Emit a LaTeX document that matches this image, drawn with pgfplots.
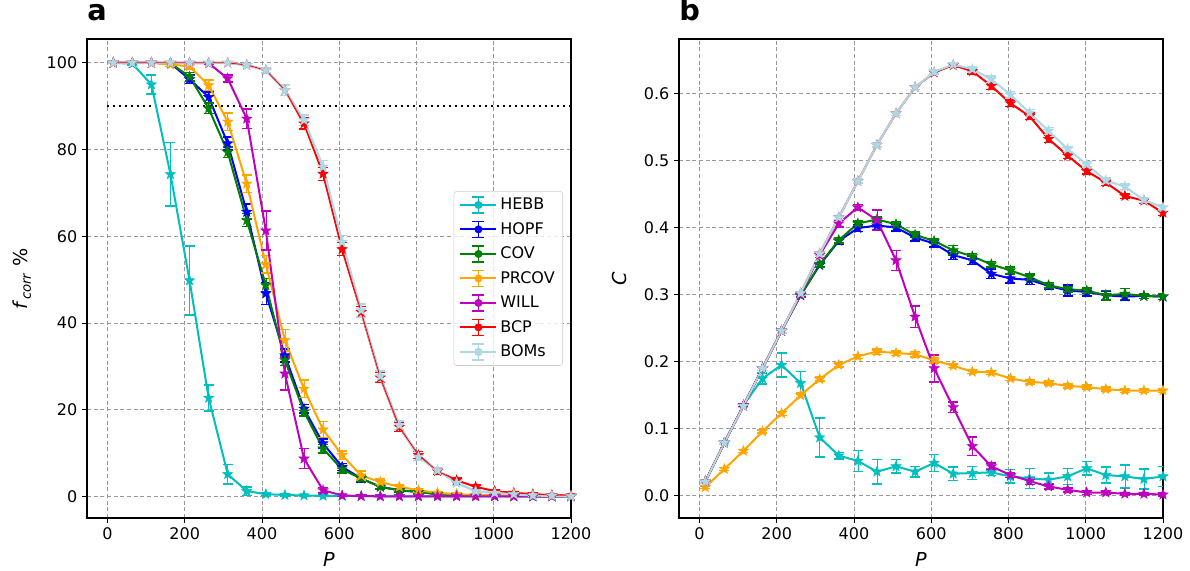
\documentclass[border=0pt]{standalone}
\usepackage{pgfplots}
\usepackage{pgfplotstable}
\pgfplotsset{compat=1.18}
\usepackage{fontspec}
\setmainfont{DejaVu Sans}

\definecolor{mcyan}{rgb}{0,0.75,0.75}
\definecolor{mblue}{rgb}{0,0,1}
\definecolor{mgreen}{rgb}{0,0.5,0}
\definecolor{morange}{HTML}{FFA500}
\definecolor{mmag}{rgb}{0.75,0,0.75}
\definecolor{mred}{rgb}{1,0,0}
\definecolor{mlblue}{HTML}{ADD8E6}

\pgfdeclareplotmark{fstar}{%
  \pgfpathmoveto{\pgfpointpolar{90}{\pgfplotmarksize}}%
  \pgfpathlineto{\pgfpointpolar{126}{0.42\pgfplotmarksize}}%
  \pgfpathlineto{\pgfpointpolar{162}{\pgfplotmarksize}}%
  \pgfpathlineto{\pgfpointpolar{198}{0.42\pgfplotmarksize}}%
  \pgfpathlineto{\pgfpointpolar{234}{\pgfplotmarksize}}%
  \pgfpathlineto{\pgfpointpolar{270}{0.42\pgfplotmarksize}}%
  \pgfpathlineto{\pgfpointpolar{306}{\pgfplotmarksize}}%
  \pgfpathlineto{\pgfpointpolar{342}{0.42\pgfplotmarksize}}%
  \pgfpathlineto{\pgfpointpolar{18}{\pgfplotmarksize}}%
  \pgfpathlineto{\pgfpointpolar{54}{0.42\pgfplotmarksize}}%
  \pgfpathclose
  \pgfusepathqfillstroke}

\pgfplotstableread{
P HEBB eHEBB HOPF eHOPF COV eCOV PRCOV ePRCOV WILL eWILL BCP eBCP BOM eBOM
15 100 0.1 100 0.1 100 0.1 100 0.1 100 0.1 100 0.1 100 0.1
64.4 99.8 0.3 100 0.1 100 0.1 100 0.1 100 0.1 100 0.1 100 0.1
113.8 95.0 2.2 100 0.1 100 0.1 100 0.1 100 0.1 100 0.1 100 0.1
163.1 74.3 7.3 99.9 0.3 99.9 0.3 99.6 0.4 100 0.1 100 0.1 100 0.1
212.5 49.8 8.0 96.2 1.0 96.8 1.0 99.2 0.6 100 0.2 100 0.1 100 0.1
261.9 22.7 3.0 92.1 1.2 89.5 1.2 94.8 1.2 99.9 0.3 100 0.1 100 0.1
311.3 5.1 2.3 81.4 1.5 79.4 1.2 86.4 2.0 96.4 0.8 100 0.2 100 0.2
360.6 1.2 1.0 65.6 1.8 63.7 1.5 72.1 2.0 87.1 2.3 99.5 0.4 99.5 0.4
410.0 0.5 0.3 46.8 2.5 48.7 1.5 53.5 2.0 61.3 4.5 98.3 0.6 98.3 0.6
459.4 0.3 0.2 32.5 1.5 31.4 1.2 36.0 2.5 28.3 3.8 93.7 1.2 93.7 1.2
508.8 0.2 0.1 20.2 1.0 19.5 1.0 24.8 2.0 8.7 2.3 86.0 1.3 86.8 1.2
558.1 0.1 0.1 12.2 1.0 11.0 1.0 15.4 1.8 1.4 0.6 74.4 1.5 76.0 1.5
607.5 0.1 0.1 6.8 0.8 6.2 0.8 9.5 1.0 0.2 0.2 57.0 1.5 58.7 1.5
656.9 0.05 0.05 4.1 0.8 4.1 0.6 4.8 1.0 0.05 0.05 42.5 1.3 42.9 1.5
706.3 0 0 2.2 0.5 2.2 0.5 3.3 0.7 0 0 27.4 1.2 27.7 1.2
755.6 0 0 1.4 0.4 1.4 0.4 2.2 0.5 0 0 16.0 1.0 16.4 1.0
805.0 0 0 1.0 0.3 1.0 0.3 1.4 0.4 0 0 9.5 0.8 9.1 0.8
854.4 0 0 0.5 0.2 0.5 0.2 0.8 0.3 0 0 5.8 0.6 6.0 0.6
903.8 0 0 0.3 0.1 0.3 0.1 0.5 0.2 0 0 3.7 0.5 3.1 0.5
953.1 0 0 0.2 0.1 0.2 0.1 0.3 0.1 0 0 2.2 0.4 1.2 0.3
1002.5 0 0 0.1 0.1 0.1 0.1 0.2 0.1 0 0 1.2 0.3 0.8 0.2
1051.9 0 0 0.1 0.1 0.05 0.05 0.1 0.1 0 0 0.8 0.2 0.5 0.2
1101.3 0 0 0 0 0 0 0.05 0.05 0 0 0.5 0.2 0.2 0.1
1150.6 0 0 0 0 0 0 0 0 0 0 0.3 0.1 0.15 0.1
1200 0 0 0 0 0 0 0 0 0 0 0.2 0.1 0 0
}\leftdata

\pgfplotstableread{
P HEBB eHEBB HOPF eHOPF COV eCOV PRCOV ePRCOV WILL eWILL BCP eBCP BOM eBOM
15 0.021 0.002 0.021 0.002 0.021 0.002 0.013 0.002 0.021 0.002 0.021 0.002 0.021 0.002
64.4 0.079 0.002 0.079 0.002 0.079 0.002 0.040 0.002 0.079 0.002 0.079 0.002 0.079 0.002
113.8 0.135 0.003 0.134 0.002 0.134 0.002 0.067 0.002 0.135 0.002 0.134 0.002 0.134 0.002
163.1 0.175 0.008 0.190 0.003 0.190 0.003 0.096 0.002 0.190 0.003 0.190 0.003 0.190 0.003
212.5 0.195 0.018 0.246 0.003 0.246 0.003 0.123 0.003 0.246 0.003 0.246 0.003 0.246 0.003
261.9 0.168 0.017 0.299 0.003 0.299 0.003 0.150 0.003 0.300 0.003 0.302 0.003 0.302 0.003
311.3 0.087 0.029 0.344 0.004 0.345 0.004 0.174 0.003 0.359 0.004 0.361 0.003 0.361 0.003
360.6 0.060 0.005 0.380 0.005 0.381 0.004 0.195 0.003 0.406 0.005 0.415 0.003 0.415 0.003
410.0 0.052 0.016 0.399 0.005 0.406 0.004 0.208 0.003 0.430 0.004 0.469 0.003 0.469 0.003
459.4 0.036 0.018 0.403 0.006 0.412 0.004 0.215 0.004 0.411 0.015 0.523 0.003 0.523 0.003
508.8 0.044 0.010 0.400 0.005 0.405 0.004 0.213 0.004 0.351 0.015 0.570 0.003 0.570 0.003
558.1 0.036 0.008 0.385 0.005 0.389 0.004 0.211 0.004 0.267 0.016 0.609 0.003 0.609 0.003
607.5 0.049 0.013 0.376 0.005 0.380 0.004 0.202 0.004 0.190 0.020 0.631 0.003 0.632 0.003
656.9 0.033 0.010 0.359 0.007 0.366 0.007 0.194 0.003 0.132 0.008 0.642 0.003 0.643 0.003
706.3 0.034 0.010 0.351 0.006 0.357 0.004 0.185 0.003 0.074 0.014 0.633 0.004 0.636 0.004
755.6 0.035 0.005 0.331 0.007 0.345 0.004 0.184 0.003 0.044 0.005 0.611 0.005 0.621 0.005
805.0 0.029 0.010 0.324 0.007 0.336 0.005 0.175 0.003 0.031 0.004 0.585 0.005 0.598 0.005
854.4 0.026 0.015 0.322 0.007 0.326 0.005 0.170 0.003 0.022 0.005 0.566 0.005 0.571 0.005
903.8 0.024 0.010 0.313 0.005 0.314 0.004 0.168 0.003 0.014 0.004 0.532 0.005 0.544 0.005
953.1 0.029 0.012 0.306 0.008 0.308 0.004 0.164 0.003 0.009 0.003 0.507 0.004 0.517 0.004
1002.5 0.041 0.010 0.304 0.006 0.306 0.004 0.162 0.003 0.005 0.003 0.484 0.004 0.494 0.004
1051.9 0.031 0.012 0.299 0.006 0.299 0.007 0.159 0.003 0.005 0.003 0.467 0.004 0.470 0.004
1101.3 0.029 0.017 0.297 0.006 0.301 0.008 0.157 0.003 0.003 0.002 0.447 0.004 0.461 0.004
1150.6 0.025 0.015 0.298 0.004 0.298 0.004 0.157 0.003 0.003 0.002 0.440 0.004 0.441 0.004
1200 0.029 0.015 0.297 0.004 0.297 0.004 0.157 0.003 0.002 0.002 0.422 0.004 0.430 0.004
}\rightdata

\pgfplotsset{
  myaxis/.style={
    scale only axis, width=363pt, height=359.25pt,
    xmin=-53, xmax=1200,
    xtick={0,200,400,600,800,1000,1200},
    grid=major,
    major grid style={dash pattern=on 3pt off 2pt, gray!80, line width=0.6pt},
    tick align=outside, major tick length=3.75pt,
    tick style={black, line width=0.6pt},
    tick pos=left,
    axis line style={line width=0.9pt},
    ticklabel style={font=\fontsize{12}{14}\selectfont},
    /pgf/number format/assume math mode=true,
    /pgf/number format/set thousands separator={},
    xlabel={\textit{P}},
    every axis x label/.style={at={(axis description cs:0.5,-0.086)}, anchor=center, font=\fontsize{14.4}{17}\selectfont},
    title style={at={(axis description cs:0,1)}, anchor=base west, yshift=7.5pt, inner sep=0pt, font=\bfseries\fontsize{21.6}{26}\selectfont},
    error bars/y dir=both, error bars/y explicit,
    error bars/error mark options={rotate=90, mark size=3.75pt, line width=1.1pt, solid},
    every axis plot/.append style={line width=1.5pt, mark=fstar, mark size=4pt, mark options={solid, line width=0.4pt}},
  }
}

\begin{document}
\begin{tikzpicture}
\useasboundingbox (0,0) rectangle (892.5pt,428.25pt);
\begin{axis}[myaxis, at={(65.25pt,39.75pt)}, anchor=south west,
  ymin=-5, ymax=105.5, ytick={0,20,40,60,80,100},
  title={a},
  ylabel={\textit{f}\textsubscript{\textit{corr}} \%},
  every axis y label/.style={at={(axis description cs:-0.134,0.5)}, rotate=90, anchor=center, font=\fontsize{14.4}{17}\selectfont},
  legend cell align=left,
  legend style={at={(axis description cs:1,0.5)}, anchor=east, xshift=-6pt,
    font=\fontsize{12}{14}\selectfont, draw=black!20, rounded corners=2pt,
    fill=white, fill opacity=0.8, text opacity=1, inner xsep=4pt, inner ysep=3pt,
    row sep=4pt, /tikz/every even column/.append style={column sep=7pt}},
  legend image code/.code={%
    \draw[#1, mark=none] (0pt,0pt) -- (27pt,0pt);
    \draw[#1, mark=none, line width=1.1pt] (13.5pt,-6pt) -- (13.5pt,6pt);
    \draw[#1, mark=none, line width=1.1pt] (9pt,6pt) -- (18pt,6pt);
    \draw[#1, mark=none, line width=1.1pt] (9pt,-6pt) -- (18pt,-6pt);
    \fill[#1] (13.5pt,0pt) circle (2.2pt);
  },
]
\addplot[black, line width=1.5pt, dash pattern=on 1.5pt off 3pt, mark=none, error bars/y dir=none, forget plot] coordinates {(0,90) (1200,90)};
\addplot[mcyan] table[x=P, y=HEBB, y error=eHEBB] {\leftdata};
\addlegendentry{HEBB}
\addplot[mblue] table[x=P, y=HOPF, y error=eHOPF] {\leftdata};
\addlegendentry{HOPF}
\addplot[mgreen] table[x=P, y=COV, y error=eCOV] {\leftdata};
\addlegendentry{COV}
\addplot[morange] table[x=P, y=PRCOV, y error=ePRCOV] {\leftdata};
\addlegendentry{PRCOV}
\addplot[mmag] table[x=P, y=WILL, y error=eWILL] {\leftdata};
\addlegendentry{WILL}
\addplot[mred] table[x=P, y=BCP, y error=eBCP] {\leftdata};
\addlegendentry{BCP}
\addplot[mlblue, line width=1.8pt] table[x=P, y=BOM, y error=eBOM] {\leftdata};
\addlegendentry{BOMs}
\addplot[mred, line width=0.6pt, mark=none, error bars/y dir=none, forget plot] table[x=P, y=BCP] {\leftdata};
\end{axis}

\begin{axis}[myaxis, at={(509.25pt,39.75pt)}, anchor=south west,
  ymin=-0.033, ymax=0.681, ytick={0,0.1,0.2,0.3,0.4,0.5,0.6},
  yticklabel style={/pgf/number format/.cd, fixed, fixed zerofill, precision=1},
  title={b},
  ylabel={\textit{C}},
  every axis y label/.style={at={(axis description cs:-0.122,0.5)}, rotate=90, anchor=center, font=\fontsize{14.4}{17}\selectfont},
]
\addplot[mcyan] table[x=P, y=HEBB, y error=eHEBB] {\rightdata};
\addplot[mblue] table[x=P, y=HOPF, y error=eHOPF] {\rightdata};
\addplot[mgreen] table[x=P, y=COV, y error=eCOV] {\rightdata};
\addplot[morange] table[x=P, y=PRCOV, y error=ePRCOV] {\rightdata};
\addplot[mmag] table[x=P, y=WILL, y error=eWILL] {\rightdata};
\addplot[mred] table[x=P, y=BCP, y error=eBCP] {\rightdata};
\addplot[mlblue] table[x=P, y=BOM, y error=eBOM] {\rightdata};
\end{axis}
\end{tikzpicture}
\end{document}
